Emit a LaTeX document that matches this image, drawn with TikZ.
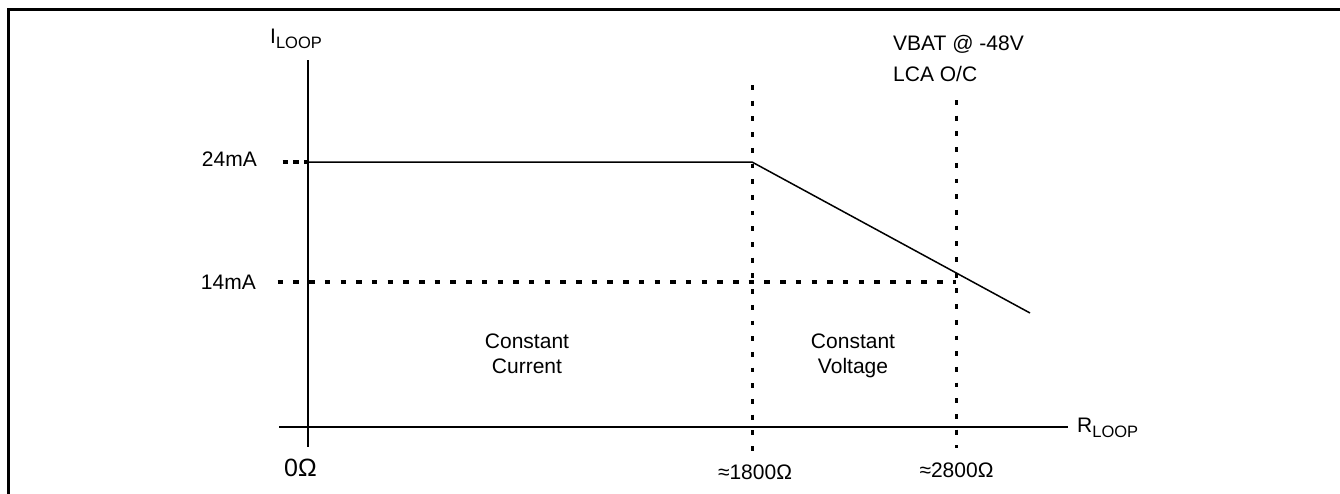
\documentclass[tikz,border=0pt]{standalone}
\usepackage{fontspec}
\setmainfont{Liberation Sans}
\begin{document}
\begin{tikzpicture}[x=1pt,y=-1pt,
  lbl/.style={inner sep=0pt,font=\fontsize{21}{25}\selectfont},
  axis/.style={line width=1.6pt},
  curve/.style={line width=1.5pt},
  dotline/.style={line width=3.2pt,dash pattern=on 5.5pt off 10.2pt},
  vdotline/.style={line width=3pt,dash pattern=on 4.8pt off 10.9pt},
  shortdots/.style={line width=3.2pt,dash pattern=on 5.6pt off 5pt},
  frame/.style={line width=3pt}]
\useasboundingbox (0,0) rectangle (1340,493);
% frame (top and left only)
\coordinate (fbl) at (8.7,495);
\coordinate (ftl) at (8.7,9.5);
\coordinate (ftr) at (1342,9.5);
\draw[frame] (fbl) -- (ftl) -- (ftr);
% axes
\coordinate (ytop) at (308,60);
\coordinate (ybot) at (308,447);
\coordinate (xl) at (279,427);
\coordinate (xr) at (1068,427);
\draw[axis] (ytop) -- (ybot);
\draw[axis] (xl) -- (xr);
% curve
\coordinate (d24) at (282.7,162);
\coordinate (a24) at (308,162);
\coordinate (knee) at (752,162);
\coordinate (se) at (1030,313);
\draw[shortdots] (d24) -- (a24);
\draw[curve] (a24) -- (knee) -- (se);
% dotted guides
\coordinate (d14l) at (277.7,282);
\coordinate (d14r) at (956,282);
\draw[dotline] (d14l) -- (d14r);
\coordinate (v1t) at (752.7,85);
\coordinate (v1b) at (752.7,455);
\draw[vdotline] (v1t) -- (v1b);
\coordinate (v2t) at (956,100);
\coordinate (v2b) at (956,448);
\draw[vdotline] (v2t) -- (v2b);
% labels
\node[lbl,anchor=base west] (iloop) at (270,43) {I\raisebox{-5pt}{\fontsize{16.5}{16.5}\selectfont LOOP}};
\node[lbl,anchor=base west] (rloop) at (1077,432) {R\raisebox{-5.5pt}{\fontsize{16.5}{16.5}\selectfont LOOP}};
\node[lbl,anchor=base east] (l24) at (257,166) {24mA};
\node[lbl,anchor=base east] (l14) at (256,289) {14mA};
\node[lbl,anchor=base west] (vbat) at (893,50) {VBAT @ -48V};
\node[lbl,anchor=base west] (lca) at (893,81) {LCA O/C};
\node[lbl,align=center] (cc) at (527,354) {Constant\\Current};
\node[lbl,align=center] (cv) at (853,356) {Constant\\Voltage};
\node[lbl,anchor=base,font=\fontsize{25}{25}\selectfont] (r0) at (300.5,476) {0Ω};
\node[lbl,anchor=base] (r1800) at (755,479) {≈1800Ω};
\node[lbl,anchor=base] (r2800) at (956.5,477) {≈2800Ω};
\end{tikzpicture}
\end{document}
